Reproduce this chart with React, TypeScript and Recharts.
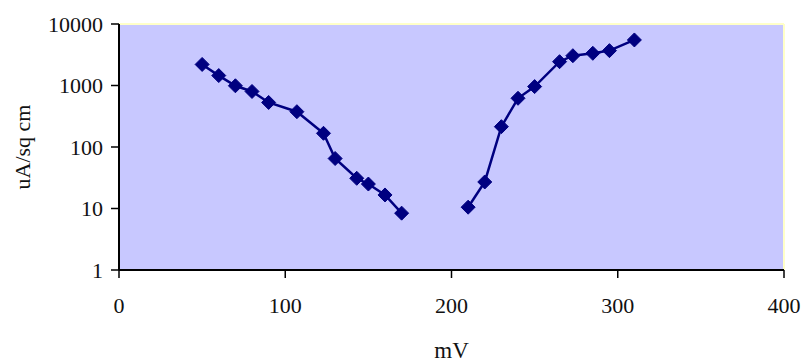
import React from "react";
import {
  LineChart,
  Line,
  XAxis,
  YAxis,
  CartesianGrid,
  ReferenceLine,
} from "recharts";

const cathodicMv = [50, 60, 70, 80, 90, 107, 123, 130, 143, 150, 160, 170];
const cathodicCurrent = [2200, 1450, 990, 800, 530, 375, 167, 65, 31, 25, 16.6, 8.4];

const anodicMv = [210, 220, 230, 240, 250, 265, 273, 285, 295, 310];
const anodicCurrent = [10.5, 27, 214, 620, 960, 2440, 3050, 3340, 3690, 5500];

const xTicks = [0, 100, 200, 300, 400];
const yTicks = [1, 10, 100, 1000, 10000];

const cathodic = cathodicMv.map((x, i) => ({ x, y: cathodicCurrent[i] }));
const anodic = anodicMv.map((x, i) => ({ x, y: anodicCurrent[i] }));

const NAVY = "#000080";
const FONT = "Liberation Serif";

const Diamond = (props: any) => {
  const { cx, cy } = props;
  if (cx == null || cy == null) return null;
  const r = 7;
  return (
    <polygon
      points={`${cx},${cy - r} ${cx + r},${cy} ${cx},${cy + r} ${cx - r},${cy}`}
      fill={NAVY}
      stroke={NAVY}
      strokeWidth={1}
      strokeLinejoin="round"
    />
  );
};

export default function App() {
  return (
    <div style={{ position: "absolute", left: 0, top: 0 }}>
      <LineChart
        width={806}
        height={363}
        margin={{ top: 24, right: 22, bottom: 3, left: 19 }}
      >
        <CartesianGrid
          horizontal={false}
          vertical={false}
          fill="#C8C8FF"
          fillOpacity={1}
        />
        <ReferenceLine y={10000} stroke="#FFFFC8" strokeWidth={2} />
        <ReferenceLine x={400} stroke="#FFFFC8" strokeWidth={2} />
        <XAxis
          type="number"
          dataKey="x"
          domain={[0, 400]}
          ticks={xTicks}
          allowDataOverflow
          height={90}
          tickSize={8}
          tickMargin={19}
          axisLine={{ stroke: "#000", strokeWidth: 2 }}
          tickLine={{ stroke: "#000", strokeWidth: 1.5 }}
          tick={{ fill: "#111", fontSize: 22, fontFamily: FONT }}
          label={{
            value: "mV",
            position: "insideBottom",
            offset: 2,
            fill: "#111",
            fontSize: 23,
            fontFamily: FONT,
          }}
        />
        <YAxis
          type="number"
          dataKey="y"
          scale="log"
          domain={[1, 10000]}
          ticks={yTicks}
          allowDataOverflow
          width={100}
          tickSize={8}
          tickMargin={8}
          axisLine={{ stroke: "#000", strokeWidth: 2 }}
          tickLine={{ stroke: "#000", strokeWidth: 1.5 }}
          tick={{ fill: "#111", fontSize: 22, fontFamily: FONT }}
          label={{
            value: "uA/sq cm",
            angle: -90,
            position: "insideLeft",
            offset: 3,
            style: { textAnchor: "middle" },
            fill: "#111",
            fontSize: 22,
            fontFamily: FONT,
          }}
        />
        <Line
          data={cathodic}
          dataKey="y"
          stroke={NAVY}
          strokeWidth={2.5}
          dot={<Diamond />}
          activeDot={false}
          isAnimationActive={false}
        />
        <Line
          data={anodic}
          dataKey="y"
          stroke={NAVY}
          strokeWidth={2.5}
          dot={<Diamond />}
          activeDot={false}
          isAnimationActive={false}
        />
      </LineChart>
    </div>
  );
}
